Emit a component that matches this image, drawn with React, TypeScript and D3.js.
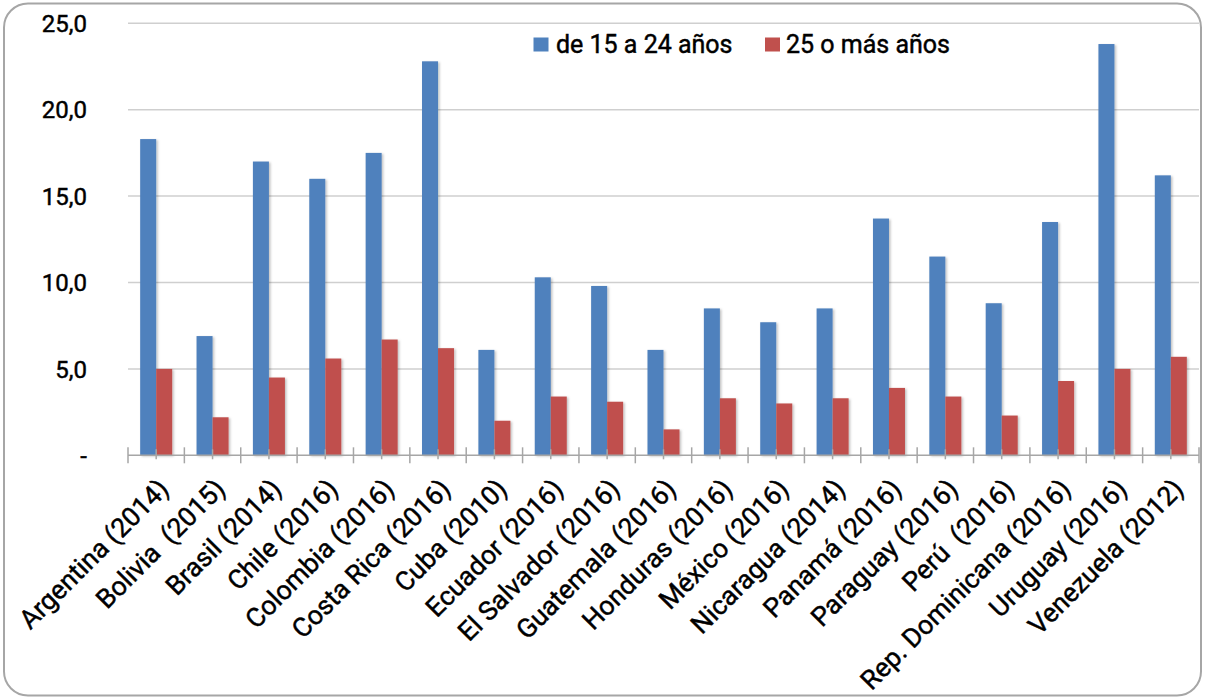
import React from "react";
import * as d3 from "d3";

const categories = [
  "Argentina (2014)", "Bolivia  (2015)", "Brasil (2014)", "Chile (2016)", "Colombia (2016)",
  "Costa Rica (2016)", "Cuba (2010)", "Ecuador (2016)", "El Salvador (2016)", "Guatemala (2016)",
  "Honduras (2016)", "México (2016)", "Nicaragua (2014)", "Panamá (2016)", "Paraguay (2016)",
  "Perú  (2016)", "Rep. Dominicana (2016)", "Uruguay (2016)", "Venezuela (2012)",
];
const young = [18.3, 6.9, 17.0, 16.0, 17.5, 22.8, 6.1, 10.3, 9.8, 6.1, 8.5, 7.7, 8.5, 13.7, 11.5, 8.8, 13.5, 23.8, 16.2];
const older = [5.0, 2.2, 4.5, 5.6, 6.7, 6.2, 2.0, 3.4, 3.1, 1.5, 3.3, 3.0, 3.3, 3.9, 3.4, 2.3, 4.3, 5.0, 5.7];
const seriesNames = ["de 15 a 24 años", "25 o más años"];
const yTicks = [0, 5, 10, 15, 20, 25];

const W = 1205, H = 698;
const left = 128, right = 1199, top = 23.3, bottom = 455.3;
const colors = ["#4F81BD", "#C0504D"];
const font = "Roboto, 'Open Sans', sans-serif";
const textStroke = { stroke: "#000", strokeWidth: 0.45 };

export default function App() {
  const x = d3.scaleBand<string>().domain(categories).range([left, right]).paddingInner(0).paddingOuter(0);
  const y = d3.scaleLinear().domain([0, 25]).range([bottom, top]);
  const inner = d3.scaleBand<number>().domain([0, 1]).range([0, x.bandwidth()]).paddingInner(0).paddingOuter(0.76);
  const fmt = (v: number) => (v === 0 ? "-" : d3.format(".1f")(v).replace(".", ","));
  const series = [young, older];
  const bw = x.bandwidth();

  return (
    <svg width={W} height={H} style={{ position: "absolute", left: 0, top: 0, background: "#fff" }} fontFamily={font}>
      <defs>
        <filter id="sh" x="-20%" y="-5%" width="160%" height="115%">
          <feDropShadow dx="1.5" dy="1" stdDeviation="1.2" floodColor="#000" floodOpacity="0.25" />
        </filter>
      </defs>
      <rect x={4} y={3.5} width={W - 8} height={H - 6} rx={24} ry={24} fill="#fff" stroke="#A6A6A6" strokeWidth={2} />
      {yTicks.filter((t) => t > 0).map((t) => (
        <line key={t} x1={left} x2={right} y1={y(t)} y2={y(t)} stroke="#CFCFCF" strokeWidth={1.5} />
      ))}
      {yTicks.map((t) => (
        <text key={t} x={87} y={y(t)} dy="0.36em" textAnchor="end" fontSize={24} fill="#000" {...textStroke}>
          {fmt(t)}
        </text>
      ))}
      {series.map((vals, si) =>
        categories.map((c, i) => (
          <rect
            key={si + "-" + c}
            x={(x(c) as number) + (inner(si) as number)}
            y={y(vals[i])}
            width={inner.bandwidth()}
            height={bottom - y(vals[i])}
            fill={colors[si]}
            filter="url(#sh)"
          />
        ))
      )}
      <line x1={left} x2={right} y1={bottom} y2={bottom} stroke="#A6A6A6" strokeWidth={1.5} />
      {categories.map((c) => (
        <g key={"t" + c}>
          <line x1={x(c) as number} x2={x(c) as number} y1={bottom - 8} y2={bottom + 8} stroke="#A6A6A6" strokeWidth={1.5} />
          <line x1={(x(c) as number) + bw / 2} x2={(x(c) as number) + bw / 2} y1={bottom - 6} y2={bottom + 4} stroke="#A6A6A6" strokeWidth={1.5} />
        </g>
      ))}
      <line x1={right} x2={right} y1={bottom - 8} y2={bottom + 8} stroke="#A6A6A6" strokeWidth={1.5} />
      {categories.map((c) => {
        const cx = (x(c) as number) + bw / 2 + 1;
        const cy = bottom + 22;
        return (
          <text key={"l" + c} transform={`translate(${cx},${cy}) rotate(-45)`} textAnchor="end" dy="0.7em" fontSize={26.5} fill="#000" {...textStroke} style={{ whiteSpace: "pre" }}>
            {c}
          </text>
        );
      })}
      <g {...textStroke}>
        <rect x={533.5} y={37.5} width={15} height={14} fill={colors[0]} stroke="none" />
        <text x={556} y={52.5} fontSize={25} fill="#000">{seriesNames[0]}</text>
        <rect x={765} y={37.5} width={15} height={14} fill={colors[1]} stroke="none" />
        <text x={786} y={52.5} fontSize={25} fill="#000">{seriesNames[1]}</text>
      </g>
    </svg>
  );
}
